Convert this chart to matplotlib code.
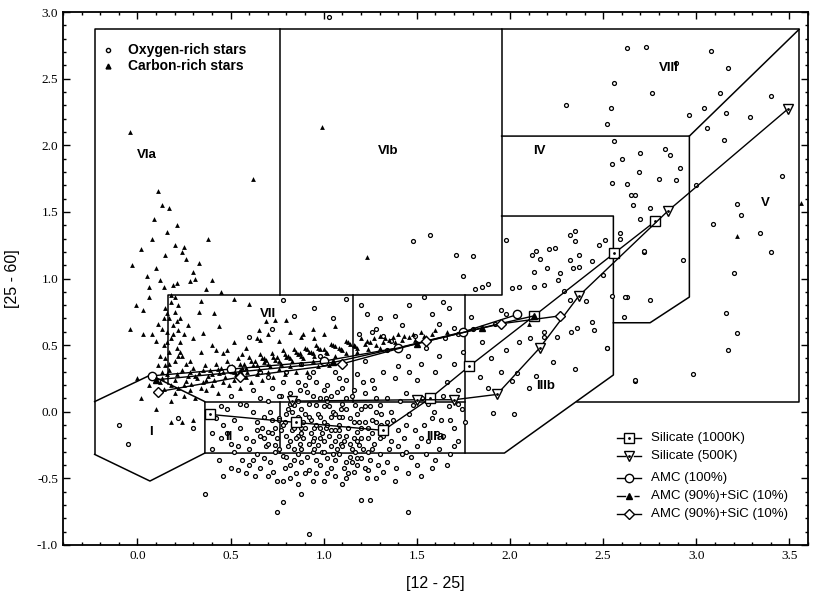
import numpy as np
import matplotlib
matplotlib.use('Agg')
import matplotlib.pyplot as plt
import matplotlib.ticker as ticker

# ---- data: ([12-25], [25-60]) pairs ----
o_rich = [
    (0.42, -0.05), (0.45, -0.20), (0.48, 0.02), (0.52, -0.30), (0.55, -0.12), (0.58, 0.05), (0.60, -0.40),
    (0.62, -0.22), (0.64, -0.08), (0.66, 0.10), (0.68, -0.35), (0.70, -0.15), (0.71, 0.00), (0.73, -0.45),
    (0.74, -0.25), (0.76, -0.05), (0.77, 0.12), (0.78, -0.33), (0.80, -0.18), (0.81, 0.02), (0.82, -0.50),
    (0.84, -0.28), (0.85, -0.10), (0.86, 0.08), (0.88, -0.38), (0.89, -0.20), (0.90, -0.02), (0.91, 0.15),
    (0.92, -0.44), (0.94, -0.30), (0.95, -0.12), (0.96, 0.05), (0.97, -0.25), (0.98, -0.40), (1.00, -0.08),
    (1.01, 0.10), (1.02, -0.35), (1.03, -0.18), (1.05, 0.00), (1.06, -0.48), (1.07, -0.28), (1.08, -0.10),
    (1.10, 0.06), (1.11, -0.22), (1.12, -0.38), (1.14, -0.05), (1.15, 0.12), (1.17, -0.30), (1.18, -0.15),
    (1.20, 0.02), (1.22, -0.42), (1.24, -0.20), (1.26, -0.06), (1.28, 0.10), (1.30, -0.32), (1.33, -0.16),
    (1.36, 0.00), (1.40, -0.26), (1.44, -0.10), (1.48, 0.05), (1.52, -0.20), (1.58, -0.05), (1.64, 0.12),
    (1.70, -0.12), (0.50, -0.42), (0.56, -0.36), (0.63, -0.48), (0.69, -0.26), (0.75, -0.52), (0.79, -0.08),
    (0.83, -0.14), (0.87, -0.24), (0.93, -0.06), (0.99, -0.16), (1.04, -0.42), (1.09, -0.24), (1.13, -0.46),
    (1.19, -0.25), (1.25, -0.36), (1.31, -0.02), (0.72, 0.18), (0.78, 0.22), (0.84, 0.05), (0.90, 0.20),
    (0.96, 0.22), (1.02, 0.20), (1.08, 0.25), (1.16, 0.16), (1.21, 0.22), (1.27, 0.18), (0.66, -0.18),
    (0.74, -0.12), (0.82, -0.40), (0.88, -0.12), (0.94, -0.52), (1.00, -0.22), (1.06, -0.02), (1.12, -0.50),
    (1.18, -0.35), (1.24, -0.44), (1.34, -0.38), (1.42, -0.32), (1.50, -0.40), (1.56, -0.22), (1.62, -0.28),
    (1.68, -0.32), (1.74, 0.02), (0.60, -0.28), (0.68, -0.04), (0.76, -0.06), (0.86, -0.32), (0.98, 0.10),
    (1.10, 0.18), (1.22, 0.14), (1.38, 0.25), (1.46, 0.30), (0.80, 0.30), (0.92, 0.26), (1.04, -0.14),
    (1.16, -0.45), (1.28, 0.00), (0.70, -0.24), (0.84, -0.12), (0.95, -0.20), (1.07, 0.15), (1.20, -0.35),
    (1.32, -0.45), (1.32, -0.18), (0.64, -0.32), (0.67, -0.12), (0.71, -0.38), (0.72, -0.06), (0.75, -0.20),
    (0.79, -0.42), (0.81, -0.26), (0.83, 0.00), (0.85, -0.46), (0.87, 0.16), (0.89, -0.08), (0.91, -0.34),
    (0.93, -0.16), (0.96, -0.46), (0.97, -0.02), (0.99, -0.30), (1.01, -0.12), (1.03, 0.04), (1.04, -0.26),
    (1.06, -0.36), (1.08, -0.18), (1.09, 0.02), (1.11, -0.42), (1.13, -0.12), (1.15, -0.28), (1.17, 0.05),
    (1.19, -0.08), (1.21, -0.28), (1.23, -0.50), (1.25, 0.04), (1.27, -0.24), (1.29, -0.40), (1.31, -0.10),
    (1.35, -0.28), (1.37, -0.06), (1.39, -0.42), (1.41, 0.08), (1.43, -0.20), (1.47, -0.34), (1.49, -0.14),
    (1.53, 0.10), (1.55, -0.32), (1.59, 0.00), (1.61, -0.16), (1.66, -0.40), (1.72, -0.22), (1.76, -0.08),
    (0.62, 0.00), (0.66, -0.42), (0.70, 0.08), (0.74, -0.30), (0.77, -0.14), (0.80, -0.34), (0.82, 0.14),
    (0.86, -0.18), (0.88, 0.02), (0.90, -0.46), (0.92, -0.24), (0.94, 0.12), (0.96, -0.36), (0.98, -0.20),
    (1.00, 0.04), (1.02, -0.46), (1.04, 0.12), (1.06, -0.14), (1.08, -0.32), (1.10, -0.04), (1.12, 0.10),
    (1.14, -0.34), (1.16, -0.20), (1.18, -0.02), (1.20, -0.12), (1.22, 0.04), (1.24, -0.30), (1.26, -0.16),
    (1.30, 0.05), (1.34, -0.08), (1.36, -0.22), (1.40, -0.14), (1.44, -0.30), (1.46, -0.02), (1.50, -0.26),
    (1.54, -0.10), (1.60, -0.36), (1.63, -0.06), (1.67, 0.04), (1.70, -0.26),
    (0.78, -0.10), (0.80, -0.02), (0.82, -0.22), (0.84, -0.36), (0.86, -0.04), (0.88, -0.28), (0.90, -0.12),
    (0.92, -0.04), (0.94, -0.22), (0.96, -0.10), (0.98, -0.04), (1.00, -0.30), (1.02, -0.10), (1.04, -0.04),
    (1.06, -0.22), (1.08, -0.04), (1.10, -0.26), (1.12, -0.18), (1.14, -0.24), (1.16, -0.08), (1.18, -0.40),
    (1.20, -0.20), (1.22, -0.08), (1.24, -0.12), (1.26, -0.28), (1.28, -0.08), (1.30, -0.20), (0.85, -0.20),
    (0.95, -0.28), (1.05, -0.32), (1.15, -0.38), (0.88, -0.16), (0.98, -0.12), (1.08, -0.14), (1.18, -0.22),
    (0.92, 0.06), (1.02, 0.08), (1.12, 0.02), (0.82, 0.06), (0.76, -0.28), (0.72, -0.16), (0.68, -0.20),
    (0.64, -0.14), (0.58, -0.20), (0.54, -0.26), (0.52, -0.06), (0.46, -0.10), (0.58, -0.46), (0.62, -0.36),
    (0.70, -0.48), (0.78, -0.52), (0.86, -0.54), (1.00, -0.52), (1.10, -0.54), (1.28, -0.50), (1.38, -0.52),
    (1.45, -0.46), (1.52, -0.48), (1.58, -0.42), (1.64, -0.18), (1.68, -0.06), (1.72, 0.06), (1.56, 0.06),
    (1.44, 0.14), (1.34, 0.10), (1.26, 0.24), (1.18, 0.28), (1.32, 0.30), (1.40, 0.34), (1.52, 0.36),
    (1.60, 0.30), (1.66, 0.22), (1.72, 0.16), (1.50, 0.24), (1.62, 0.42), (1.70, 0.36), (1.45, 0.42),
    (1.34, 0.46), (1.22, 0.38), (1.55, 0.48), (1.65, 0.55), (1.75, 0.45), (1.85, 0.52), (1.90, 0.40),
    (1.84, 0.26), (1.88, 0.18), (1.95, 0.30), (1.98, 0.46), (2.05, 0.52), (1.80, 0.62), (1.92, 0.66),
    (1.62, 0.66), (1.28, 0.62), (1.38, 0.72), (1.46, 0.80), (1.20, 0.80), (1.54, 0.86),
    (0.62, 0.16), (0.70, 0.26), (0.76, 0.12), (0.86, 0.22), (0.94, 0.30), (1.00, 0.16), (1.06, 0.30),
    (1.12, 0.24), (0.66, 0.30), (0.88, 0.36), (0.98, 0.42), (0.60, 0.56), (0.72, 0.62), (0.84, 0.72),
    (0.95, 0.78), (1.05, 0.70), (0.78, 0.84), (0.50, 0.12), (0.55, 0.06), (0.45, 0.04),
    (0.40, -0.28), (0.44, -0.36), (0.48, -0.16), (0.50, -0.24), (0.54, -0.44), (0.40, -0.16), (0.46, -0.48),
    (1.12, 0.85), (1.23, 0.73), (1.30, 0.70), (1.42, 0.65), (1.49, 0.57), (1.58, 0.73), (1.64, 0.82),
    (1.67, 0.78), (1.70, 0.63), (1.72, 0.58), (1.79, 0.71), (1.81, 0.92), (1.85, 0.94), (1.88, 0.96),
    (1.95, 0.76), (1.98, 0.73), (1.19, 0.58), (1.32, 0.57), (1.36, 0.53), (2.01, 0.93), (2.05, 0.94),
    (2.01, 0.23), (2.04, 0.29), (2.10, 0.18), (2.11, 0.55), (2.13, 0.94), (2.14, 0.27), (2.18, 0.95),
    (2.18, 0.56), (2.18, 0.60), (2.23, 0.37), (2.25, 0.56), (2.33, 0.60), (2.35, 0.32), (2.36, 0.63),
    (2.44, 0.67), (2.45, 0.61), (2.52, 0.48), (2.67, 0.23), (2.02, -0.02), (1.91, -0.01),
    (1.71, 1.18), (1.80, 1.17), (1.57, 1.33), (1.48, 1.28), (1.75, 1.02), (1.98, 1.29), (2.14, 1.21),
    (2.21, 1.22), (2.24, 1.23), (2.32, 1.33), (2.35, 1.36), (2.48, 1.25), (2.51, 1.29), (2.35, 1.28),
    (2.12, 1.18), (2.16, 1.15), (2.37, 1.18), (2.32, 1.14), (2.37, 1.09), (2.44, 1.13), (2.20, 1.08),
    (2.13, 1.05), (2.27, 1.04), (2.34, 1.08), (2.50, 1.03), (2.26, 0.99), (2.29, 0.91), (2.32, 0.84),
    (2.41, 0.83), (2.63, 0.86), (2.61, 0.71),
    (2.70, 1.94), (2.83, 1.97), (2.86, 1.93), (2.91, 1.83), (2.60, 1.90), (2.55, 1.86), (2.69, 1.80),
    (2.80, 1.75), (2.89, 1.74), (2.63, 1.71), (2.55, 1.72), (2.65, 1.63), (2.67, 1.63), (2.66, 1.55),
    (2.75, 1.53), (2.70, 1.45), (3.00, 1.70), (2.72, 1.20), (2.59, 1.30), (2.59, 1.34),
    (2.63, 2.73), (2.73, 2.74), (3.08, 2.71), (2.89, 2.62), (3.17, 2.58), (2.56, 2.47), (2.76, 2.39),
    (3.40, 2.37), (3.13, 2.39), (2.54, 2.28), (3.04, 2.28), (2.96, 2.23), (3.16, 2.24), (3.29, 2.21),
    (3.06, 2.13), (2.52, 2.16), (3.15, 2.04), (2.56, 2.03), (3.46, 1.77), (3.22, 1.56), (3.24, 1.48),
    (3.09, 1.41), (3.34, 1.34), (3.40, 1.20), (3.20, 1.04), (3.16, 0.74), (3.22, 0.59), (3.17, 0.46),
    (2.67, 0.24), (2.93, 1.14), (2.62, 0.86), (2.75, 0.84), (2.72, 1.21), (2.52, 0.48), (2.55, 0.87),
    (1.03, 2.96), (2.30, 2.30), (2.98, 0.28),
    (0.36, -0.62), (0.75, -0.75), (0.78, -0.68), (0.88, -0.62), (1.20, -0.66), (1.25, -0.66), (1.45, -0.75),
    (-0.10, -0.10), (0.92, -0.92), (1.26, 0.60), (0.30, -0.12), (-0.05, -0.24), (0.22, -0.05),
]

c_rich = [
    (0.18, 0.88), (0.12, 0.99), (0.21, 0.97), (0.40, 0.99), (0.37, 0.92), (0.06, 0.94), (0.14, 0.94),
    (-0.04, 0.62), (0.03, 0.76), (0.03, 0.58), (0.08, 0.58), (0.10, 0.53), (0.11, 0.66), (0.00, 0.25),
    (0.16, 0.74), (0.20, 0.75), (0.23, 0.70), (0.22, 0.61), (0.27, 0.65), (0.30, 0.55), (0.34, 0.83),
    (0.41, 0.74), (0.33, 0.75), (0.35, 0.59), (0.44, 0.64), (0.60, 0.81), (0.69, 0.68), (0.65, 0.61),
    (0.74, 0.69), (0.80, 0.69), (0.42, 0.46), (0.48, 0.46), (0.56, 0.43), (0.66, 0.54), (0.68, 0.40),
    (0.89, 0.58), (0.95, 0.55),
    (-0.04, 2.10), (0.11, 1.66), (0.13, 1.55), (0.17, 1.53), (0.20, 1.25), (0.21, 1.40), (0.24, 1.20),
    (0.26, 1.15), (0.08, 1.30), (0.02, 1.22), (-0.03, 1.10), (0.30, 1.05), (0.99, 2.14), (0.62, 1.75),
    (0.38, 1.30), (0.05, 1.02), (0.10, 1.08), (0.15, 1.18), (0.28, 0.98), (0.33, 1.12), (0.45, 0.90),
    (0.52, 0.85), (0.09, 1.45), (0.16, 1.35), (0.19, 0.95), (0.31, 1.00), (-0.01, 0.80), (0.06, 0.86),
    (0.25, 1.24),
    (0.13, 0.30), (0.15, 0.40), (0.17, 0.45), (0.14, 0.50), (0.18, 0.55), (0.16, 0.60), (0.19, 0.65),
    (0.17, 0.70), (0.15, 0.78), (0.18, 0.82), (0.21, 0.48), (0.23, 0.52), (0.20, 0.38), (0.24, 0.42),
    (0.12, 0.42), (0.13, 0.62), (0.22, 0.80), (0.25, 0.58), (0.26, 0.36), (0.11, 0.35),
    (0.16, 0.52), (0.19, 0.58), (0.17, 0.36), (0.21, 0.68), (0.14, 0.70), (0.20, 0.86), (0.23, 0.45),
    (0.12, 0.22), (0.16, 0.28), (0.20, 0.24), (0.24, 0.31), (0.27, 0.27), (0.30, 0.33), (0.33, 0.29),
    (0.36, 0.35), (0.39, 0.31), (0.42, 0.36), (0.45, 0.33), (0.48, 0.38), (0.51, 0.34), (0.54, 0.40),
    (0.57, 0.36), (0.60, 0.41), (0.63, 0.38), (0.66, 0.43), (0.69, 0.39), (0.72, 0.44), (0.75, 0.41),
    (0.78, 0.46), (0.81, 0.42), (0.84, 0.47), (0.87, 0.44), (0.90, 0.48), (0.93, 0.45), (0.96, 0.50),
    (1.00, 0.47), (1.04, 0.51), (1.08, 0.48), (1.12, 0.53), (1.16, 0.50), (1.20, 0.55), (1.25, 0.52),
    (1.30, 0.57), (1.35, 0.54), (1.40, 0.58), (1.46, 0.56), (1.52, 0.60), (1.58, 0.58),
    (0.14, 0.17), (0.18, 0.20), (0.22, 0.18), (0.26, 0.23), (0.29, 0.21), (0.32, 0.25), (0.35, 0.22),
    (0.38, 0.27), (0.41, 0.24), (0.44, 0.29), (0.47, 0.26), (0.50, 0.31), (0.53, 0.28), (0.56, 0.33),
    (0.59, 0.30), (0.62, 0.35), (0.65, 0.32), (0.68, 0.37), (0.71, 0.34), (0.74, 0.39), (0.77, 0.36),
    (0.80, 0.41), (0.83, 0.38), (0.86, 0.43), (0.89, 0.40), (0.92, 0.45), (0.95, 0.42), (0.98, 0.47),
    (1.02, 0.44), (1.06, 0.49), (1.10, 0.46), (1.14, 0.51), (1.18, 0.48), (1.23, 0.53), (1.28, 0.50),
    (1.33, 0.55), (1.38, 0.52), (1.43, 0.57), (1.49, 0.54), (1.55, 0.56),
    (0.06, 0.20), (0.09, 0.27), (0.13, 0.25), (0.17, 0.31), (0.21, 0.28), (0.25, 0.20), (0.28, 0.30),
    (0.31, 0.27), (0.35, 0.31), (0.37, 0.24), (0.40, 0.28), (0.43, 0.32), (0.46, 0.30), (0.49, 0.34),
    (0.52, 0.30), (0.55, 0.36), (0.58, 0.33), (0.61, 0.38), (0.64, 0.35), (0.67, 0.40), (0.70, 0.36),
    (0.73, 0.41), (0.76, 0.38), (0.79, 0.43), (0.82, 0.40), (0.85, 0.45), (0.88, 0.42), (0.91, 0.47),
    (0.94, 0.44), (0.97, 0.48), (1.01, 0.45), (1.05, 0.50), (1.09, 0.47), (1.13, 0.52), (1.17, 0.49),
    (1.22, 0.51), (1.27, 0.55), (1.32, 0.52), (1.37, 0.56), (1.42, 0.54), (1.48, 0.58), (1.54, 0.57),
    (1.60, 0.61), (1.66, 0.60),
    (0.20, 0.14), (0.28, 0.16), (0.34, 0.18), (0.40, 0.20), (0.46, 0.22), (0.52, 0.24), (0.58, 0.26),
    (0.64, 0.28), (0.70, 0.30), (0.76, 0.32), (0.82, 0.34), (0.88, 0.36), (0.94, 0.38), (1.00, 0.40),
    (1.06, 0.42), (1.12, 0.44), (1.18, 0.45), (1.24, 0.47), (1.30, 0.48),
    (0.15, 0.35), (0.22, 0.42), (0.28, 0.38), (0.34, 0.45), (0.40, 0.50), (0.46, 0.44), (0.52, 0.52),
    (0.58, 0.48), (0.64, 0.55), (0.70, 0.58), (0.76, 0.53), (0.82, 0.60), (0.88, 0.56), (0.94, 0.62),
    (1.00, 0.58), (1.06, 0.64),
    (0.18, 0.08), (0.25, 0.12), (0.31, 0.10), (0.37, 0.16), (0.43, 0.14), (0.49, 0.20), (0.55, 0.18),
    (0.61, 0.22), (0.67, 0.24), (0.73, 0.26), (0.79, 0.28), (0.85, 0.30), (0.91, 0.30), (0.97, 0.34),
    (1.03, 0.35), (1.10, 0.38),
    (0.02, 0.10), (0.18, -0.08), (0.24, -0.08), (0.30, -0.06), (0.10, 0.02),
    (1.23, 1.16), (3.56, 1.57), (3.22, 1.32), (2.10, 0.66),
]

# model tracks
sil1000_x = [0.39, 0.85, 1.32, 1.57, 1.78, 2.13, 2.56, 2.78]
sil1000_y = [-0.02, -0.08, -0.14, 0.10, 0.34, 0.72, 1.19, 1.43]
sil500_x = [0.83, 1.50, 1.70, 1.93, 2.16, 2.37, 2.85, 3.49]
sil500_y = [0.08, 0.09, 0.09, 0.13, 0.48, 0.87, 1.51, 2.27]
amc_x = [0.08, 0.50, 1.00, 1.40, 1.75, 2.04]
amc_y = [0.27, 0.32, 0.38, 0.48, 0.60, 0.73]
amcsic1_x = [0.10, 0.55, 1.05, 1.50, 1.85, 2.13]
amcsic1_y = [0.24, 0.30, 0.37, 0.51, 0.63, 0.72]
amcsic2_x = [0.11, 0.55, 1.10, 1.55, 1.95, 2.27]
amcsic2_y = [0.15, 0.26, 0.36, 0.53, 0.66, 0.72]

# region boundaries (polylines)
region_lines = [
    [(0.165, 0.21), (0.165, 0.876), (1.955, 0.876), (1.955, 2.87), (-0.23, 2.87), (-0.23, -0.32)],
    [(0.765, 2.87), (0.765, 0.876)],
    [(1.955, 2.87), (3.552, 2.87), (3.552, 0.076), (2.358, 0.076)],
    [(3.552, 2.87), (2.963, 2.069), (1.955, 2.069)],
    [(2.963, 2.069), (2.963, 0.861), (2.752, 0.668), (2.555, 0.668)],
    [(1.955, 1.469), (2.555, 1.469), (2.555, 0.276), (1.97, -0.31), (0.362, -0.31)],
    [(-0.23, 0.076), (0.07, 0.276), (0.362, 0.076), (0.362, -0.31), (0.067, -0.52), (-0.23, -0.32)],
    [(0.362, 0.076), (1.758, 0.076)],
    [(0.765, 0.076), (0.765, -0.31)],
    [(1.159, 0.876), (1.159, 0.076)],
    [(1.758, 0.876), (1.758, -0.31)],
]
region_names = ['VIa', 'VIb', 'VIII', 'IV', 'V', 'VII', 'I', 'II', 'IIIa', 'IIIb']
region_pos = [(0.05, 1.93), (1.345, 1.96), (2.85, 2.58), (2.16, 1.96), (3.37, 1.57),
              (0.70, 0.73), (0.07, -0.15), (0.49, -0.19), (1.60, -0.19), (2.19, 0.19)]

# legend rows for the model tracks
model_labels = ['Silicate (1000K)', 'Silicate (500K)', 'AMC (100%)', 'AMC (90%)+SiC (10%)', 'AMC (90%)+SiC (10%)']

o_x, o_y = zip(*o_rich)
c_x, c_y = zip(*c_rich)

# ---- plot ----
fig = plt.figure(figsize=(8.22, 6.02), dpi=100)
ax = fig.add_axes([0.0766, 0.0947, 0.9064, 0.8853])

for seg in region_lines:
    xs, ys = zip(*seg)
    ax.plot(xs, ys, color='black', lw=1.1, zorder=2)

ax.scatter(o_x, o_y, s=8, marker='o', facecolors='white', edgecolors='black', linewidths=0.9, zorder=3)
ax.scatter(c_x, c_y, s=12, marker='^', color='black', linewidths=0, zorder=3)

styles = [
    dict(marker='s', ls='-', markerfacecolor='white', markersize=7, dot=True),
    dict(marker='v', ls='-', markerfacecolor='white', markersize=7, dot=True),
    dict(marker='o', ls='-', markerfacecolor='white', markersize=6, dot=False),
    dict(marker='^', ls='--', markerfacecolor='black', markersize=5, dot=False),
    dict(marker='D', ls='-', markerfacecolor='white', markersize=5, dot=False),
]
tracks = [(sil1000_x, sil1000_y), (sil500_x, sil500_y), (amc_x, amc_y),
          (amcsic1_x, amcsic1_y), (amcsic2_x, amcsic2_y)]
for (tx, ty), st in zip(tracks, styles):
    ax.plot(tx, ty, color='black', lw=1.0, marker=st['marker'], markerfacecolor=st['markerfacecolor'],
            markeredgecolor='black', markersize=st['markersize'], zorder=5)
    if st['dot']:
        ax.plot(tx, ty, ls='none', marker='.', color='black', markersize=2, zorder=6)

for name, (tx, ty) in zip(region_names, region_pos):
    ax.text(tx, ty, name, fontsize=9.5, fontweight='bold', family='Liberation Sans',
            ha='center', va='center', zorder=10)

# legend top-left (stars)
ax.plot([-0.16], [2.715], ls='none', marker='o', markersize=3, markerfacecolor='white', markeredgecolor='black')
ax.plot([-0.16], [2.595], ls='none', marker='^', markersize=3.5, color='black')
ax.text(-0.05, 2.715, 'Oxygen-rich stars', fontsize=10, fontweight='bold', family='Liberation Sans', va='center')
ax.text(-0.05, 2.595, 'Carbon-rich stars', fontsize=10, fontweight='bold', family='Liberation Sans', va='center')

# legend bottom-right (models), drawn by hand to keep the gap after the silicates
leg_y = [-0.197, -0.332, -0.497, -0.632, -0.767]
for yy, st, lab in zip(leg_y, styles, model_labels):
    ax.plot([2.574, 2.615], [yy, yy], color='black', lw=1.0, zorder=6)
    ax.plot([2.665, 2.703], [yy, yy], color='black', lw=1.0, ls=st['ls'], zorder=6)
    ax.plot([2.639], [yy], ls='none', marker=st['marker'], markerfacecolor=st['markerfacecolor'],
            markeredgecolor='black', markersize=st['markersize'], zorder=7)
    if st['dot']:
        ax.plot([2.639], [yy], ls='none', marker='.', color='black', markersize=2, zorder=8)
    ax.text(2.757, yy, lab, fontsize=9.5, family='Liberation Sans', va='center')

ax.set_xlim(-0.4, 3.6)
ax.set_ylim(-1.0, 3.0)
ax.xaxis.set_major_locator(ticker.MultipleLocator(0.5))
ax.xaxis.set_minor_locator(ticker.MultipleLocator(0.1))
ax.yaxis.set_major_locator(ticker.MultipleLocator(0.5))
ax.yaxis.set_minor_locator(ticker.MultipleLocator(0.1))
ax.xaxis.set_major_formatter(ticker.FormatStrFormatter('%.1f'))
ax.yaxis.set_major_formatter(ticker.FormatStrFormatter('%.1f'))
ax.tick_params(which='both', direction='in', top=True, right=True, width=1.0)
ax.tick_params(which='major', length=5)
ax.tick_params(which='minor', length=2.5)
for lab in ax.get_xticklabels() + ax.get_yticklabels():
    lab.set_family('Liberation Serif')
    lab.set_fontsize(9.5)
for sp in ax.spines.values():
    sp.set_linewidth(1.3)

ax.set_xlabel('[12 - 25]', fontsize=11.5, family='Liberation Sans', labelpad=10)
ax.set_ylabel('[25 - 60]', fontsize=11.5, family='Liberation Sans', labelpad=12)

fig.savefig('out.png', dpi=100)
